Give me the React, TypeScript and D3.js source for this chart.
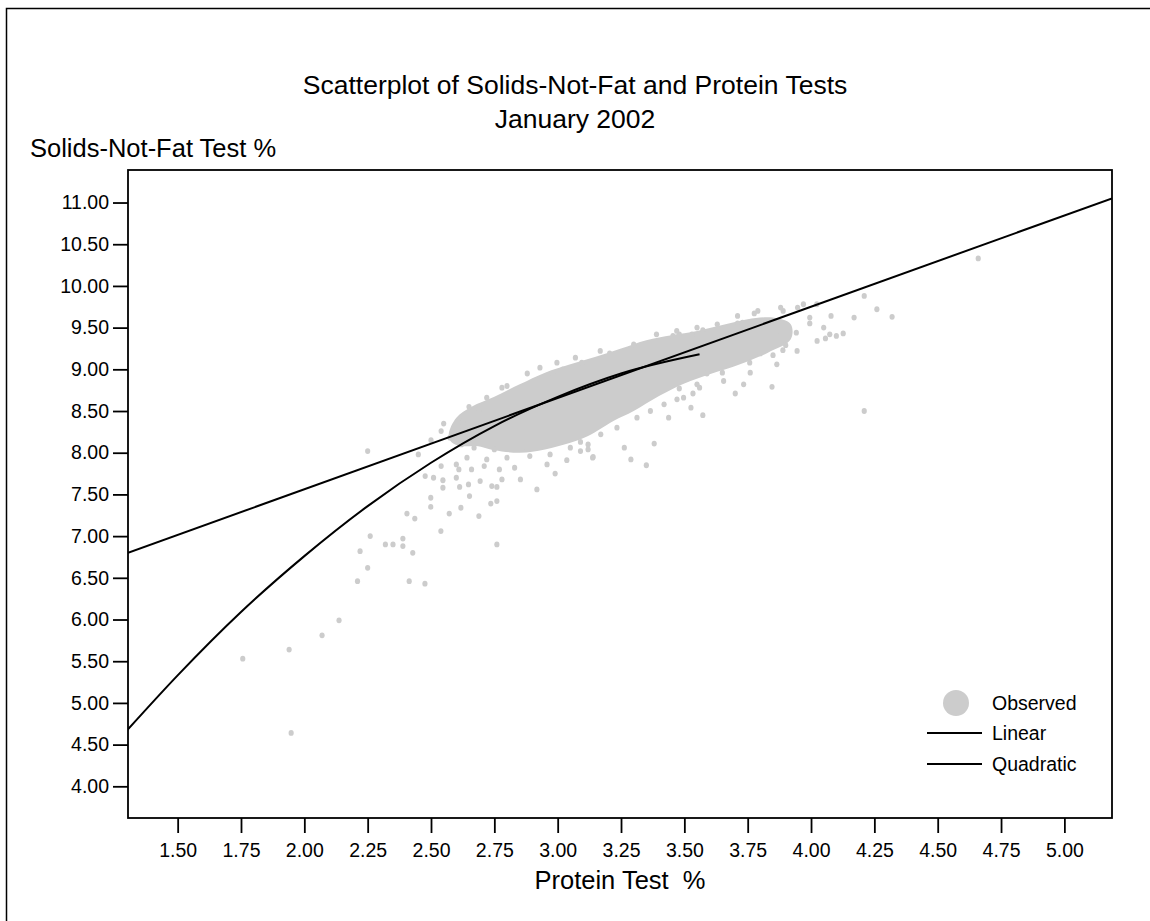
import React, { useRef, useEffect } from "react";
import * as d3 from "d3";

const width = 1150;
const height = 921;
const plotLeft = 128;
const plotTop = 170;
const plotRight = 1112;
const plotBottom = 818;

const xTicks = [1.5, 1.75, 2.0, 2.25, 2.5, 2.75, 3.0, 3.25, 3.5, 3.75, 4.0, 4.25, 4.5, 4.75, 5.0];
const yTicks = [4.0, 4.5, 5.0, 5.5, 6.0, 6.5, 7.0, 7.5, 8.0, 8.5, 9.0, 9.5, 10.0, 10.5, 11.0];

// scattered observations (protein %, solids-not-fat %)
const observed = [
  [1.757, 5.53], [1.94, 5.64], [2.07, 5.81], [2.137, 5.99], [1.948, 4.64],
  [2.25, 8.02], [2.26, 7.0], [2.22, 6.82], [2.25, 6.62], [2.21, 6.46], [2.32, 6.9], [2.35, 6.9],
  [2.389, 6.97], [2.389, 6.88], [2.428, 6.8], [2.414, 6.46], [2.476, 6.43], [2.405, 7.27], [2.436, 7.21],
  [2.539, 7.06], [2.76, 6.9], [2.499, 7.46], [2.499, 7.35], [2.572, 7.27], [2.618, 7.34], [2.689, 7.24],
  [2.736, 7.39], [2.76, 7.42], [2.652, 7.48], [2.547, 7.67], [2.547, 7.58], [2.6, 7.7], [2.613, 7.59],
  [2.648, 7.62], [2.694, 7.66], [2.74, 7.6], [2.76, 7.59], [2.78, 7.68], [2.853, 7.68], [2.918, 7.56],
  [2.99, 7.75], [3.036, 7.91], [2.958, 7.86], [2.83, 7.82], [2.77, 7.8], [2.71, 7.84], [2.66, 7.8],
  [2.61, 7.8], [2.477, 7.72], [2.51, 7.7], [2.54, 7.84], [2.6, 7.86], [3.12, 8.04], [3.138, 7.94],
  [3.09, 8.13], [2.62, 8.3], [2.62, 8.42], [2.59, 8.23], [2.54, 8.26], [2.5, 8.15], [2.55, 8.35], [2.45, 7.98],
  [3.14, 7.95], [3.289, 7.92], [3.35, 7.85], [3.381, 8.11], [3.263, 8.06], [3.438, 8.42], [3.573, 8.45],
  [3.526, 8.54], [3.471, 8.64], [3.534, 8.71], [3.701, 8.71], [3.734, 8.82], [3.846, 8.79], [3.55, 8.82],
  [3.48, 8.77], [3.589, 8.95], [3.65, 8.96], [3.758, 9.08], [3.8, 9.19], [3.85, 9.17], [3.889, 9.23],
  [3.9, 9.29], [3.942, 9.44], [3.88, 9.4], [3.995, 9.55], [3.995, 9.62], [3.947, 9.74], [4.023, 9.78],
  [4.079, 9.64], [4.057, 9.37], [4.074, 9.42], [4.127, 9.43], [3.776, 9.67], [3.71, 9.55], [3.73, 9.56],
  [3.573, 9.47], [3.53, 9.42], [3.48, 9.42], [3.455, 9.4], [3.205, 9.19], [3.095, 9.08], [3.02, 9.0],
  [2.98, 8.94], [2.78, 8.78], [2.88, 8.95], [2.93, 9.02],
  [4.21, 9.88], [4.26, 9.72], [4.32, 9.63], [4.17, 9.62], [4.1, 9.4], [4.21, 8.5], [4.66, 10.33],
  // speckle along the edges of the dense mass
  [2.642, 7.94], [2.72, 7.92], [2.8, 7.94], [2.89, 7.96], [2.97, 7.98], [3.09, 8.02], [3.12, 8.1],
  [2.88, 8.06], [2.75, 8.04], [2.67, 8.06], [2.62, 8.1], [2.575, 8.18],
  [3.05, 8.06], [3.17, 8.22], [3.234, 8.3], [3.313, 8.42], [3.366, 8.5], [3.42, 8.58], [3.497, 8.66],
  [3.56, 8.78], [3.655, 8.86], [3.76, 8.96], [3.865, 9.06], [3.945, 9.22], [4.024, 9.34], [4.05, 9.5],
  [2.997, 9.08], [3.07, 9.14], [3.168, 9.22], [3.3, 9.3], [3.39, 9.42], [3.47, 9.46], [3.55, 9.5],
  [3.63, 9.54], [3.71, 9.64], [3.79, 9.7], [3.89, 9.7], [3.97, 9.78], [3.88, 9.74],
  [2.628, 8.38], [2.69, 8.52], [2.61, 8.32], [2.65, 8.55], [2.72, 8.66], [2.8, 8.8],
];

// outline of the dense mass of observations
const coreX = [2.57, 2.6, 2.66, 2.75, 2.85, 2.95, 3.05, 3.15, 3.25, 3.35, 3.45, 3.55, 3.65, 3.75, 3.85, 3.92,
  3.92, 3.83, 3.72, 3.6, 3.5, 3.4, 3.3, 3.22, 3.12, 3.05, 2.95, 2.85, 2.75, 2.68, 2.62, 2.58];
const coreY = [8.22, 8.42, 8.55, 8.67, 8.82, 8.96, 9.06, 9.15, 9.25, 9.35, 9.41, 9.46, 9.53, 9.6, 9.62, 9.54,
  9.36, 9.2, 9.06, 8.94, 8.83, 8.68, 8.5, 8.38, 8.2, 8.12, 8.04, 8.0, 8.03, 8.08, 8.08, 8.13];

const linearX = [1.304, 5.188];
const linearY = [6.8, 11.05];

const quadX = [1.3, 1.5, 1.75, 2.0, 2.25, 2.5, 2.75, 3.0, 3.25, 3.56];
const quadY = [4.67, 5.33, 6.09, 6.76, 7.36, 7.88, 8.32, 8.67, 8.95, 9.18];

const grey = "#cccccc";
const font = "'Liberation Sans', Arial, sans-serif";

export default function App() {
  const svgRef = useRef(null);

  useEffect(() => {
    document.body.style.margin = "0";
    const svg = d3.select(svgRef.current);
    svg.selectAll("*").remove();

    const x = d3.scaleLinear().domain([1.304, 5.188]).range([plotLeft, plotRight]);
    const y = d3.scaleLinear().domain([3.62, 11.39]).range([plotBottom, plotTop]);

    // outer frame
    svg.append("rect")
      .attr("x", 6.5).attr("y", 8.5)
      .attr("width", 2000).attr("height", 2000)
      .attr("fill", "none").attr("stroke", "#000").attr("stroke-width", 1.5);

    svg.append("text")
      .attr("x", 575).attr("y", 94)
      .attr("text-anchor", "middle")
      .style("font-family", font).style("font-size", "26.5px")
      .text("Scatterplot of Solids-Not-Fat and Protein Tests");
    svg.append("text")
      .attr("x", 575).attr("y", 128)
      .attr("text-anchor", "middle")
      .style("font-family", font).style("font-size", "26.5px")
      .text("January 2002");

    svg.append("text")
      .attr("x", 30).attr("y", 157)
      .style("font-family", font).style("font-size", "25.5px")
      .text("Solids-Not-Fat Test %");

    svg.append("defs").append("clipPath").attr("id", "plot-clip")
      .append("rect")
      .attr("x", plotLeft).attr("y", plotTop)
      .attr("width", plotRight - plotLeft).attr("height", plotBottom - plotTop);

    const g = svg.append("g").attr("clip-path", "url(#plot-clip)");

    const core = coreX.map((d, i) => [d, coreY[i]]);
    g.append("path")
      .attr("d", d3.line().x(d => x(d[0])).y(d => y(d[1])).curve(d3.curveCatmullRomClosed)(core))
      .attr("fill", grey);

    g.selectAll("ellipse.obs")
      .data(observed)
      .enter()
      .append("ellipse")
      .attr("class", "obs")
      .attr("cx", d => x(d[0]))
      .attr("cy", d => y(d[1]))
      .attr("rx", 2.6)
      .attr("ry", 2.9)
      .attr("fill", grey);

    const lineGen = d3.line().x(d => x(d[0])).y(d => y(d[1]));
    g.append("path")
      .attr("d", lineGen(linearX.map((d, i) => [d, linearY[i]])))
      .attr("fill", "none").attr("stroke", "#000").attr("stroke-width", 2);
    g.append("path")
      .attr("d", lineGen.curve(d3.curveMonotoneX)(quadX.map((d, i) => [d, quadY[i]])))
      .attr("fill", "none").attr("stroke", "#000").attr("stroke-width", 2);

    // plot frame
    svg.append("rect")
      .attr("x", plotLeft).attr("y", plotTop)
      .attr("width", plotRight - plotLeft).attr("height", plotBottom - plotTop)
      .attr("fill", "none").attr("stroke", "#000").attr("stroke-width", 1.8);

    const xAxis = d3.axisBottom(x).tickValues(xTicks).tickSize(15).tickPadding(10).tickFormat(d3.format(".2f"));
    const xg = svg.append("g").attr("transform", `translate(0,${plotBottom})`).call(xAxis);
    const yAxis = d3.axisLeft(y).tickValues(yTicks).tickSize(15).tickPadding(4).tickFormat(d3.format(".2f"));
    const yg = svg.append("g").attr("transform", `translate(${plotLeft},0)`).call(yAxis);
    [xg, yg].forEach(a => {
      a.select(".domain").remove();
      a.selectAll("line").attr("stroke", "#000").attr("stroke-width", 1.8);
      a.selectAll("text").attr("fill", "#000")
        .style("font-family", font).style("font-size", "19.5px");
    });

    svg.append("text")
      .attr("x", (plotLeft + plotRight) / 2).attr("y", 889)
      .attr("text-anchor", "middle")
      .style("font-family", font).style("font-size", "25.5px")
      .style("white-space", "pre")
      .text("Protein Test  %");

    // legend
    const legend = svg.append("g");
    legend.append("circle").attr("cx", 956).attr("cy", 703).attr("r", 13).attr("fill", grey);
    legend.append("text").attr("x", 992).attr("y", 710)
      .style("font-family", font).style("font-size", "19.5px").text("Observed");
    legend.append("line").attr("x1", 927).attr("x2", 982).attr("y1", 733).attr("y2", 733)
      .attr("stroke", "#000").attr("stroke-width", 2);
    legend.append("text").attr("x", 992).attr("y", 740)
      .style("font-family", font).style("font-size", "19.5px").text("Linear");
    legend.append("line").attr("x1", 927).attr("x2", 982).attr("y1", 764).attr("y2", 764)
      .attr("stroke", "#000").attr("stroke-width", 2);
    legend.append("text").attr("x", 992).attr("y", 771)
      .style("font-family", font).style("font-size", "19.5px").text("Quadratic");
  }, []);

  return (
    <svg
      ref={svgRef}
      width={width}
      height={height}
      style={{ position: "absolute", top: 0, left: 0, background: "#fff" }}
    />
  );
}
